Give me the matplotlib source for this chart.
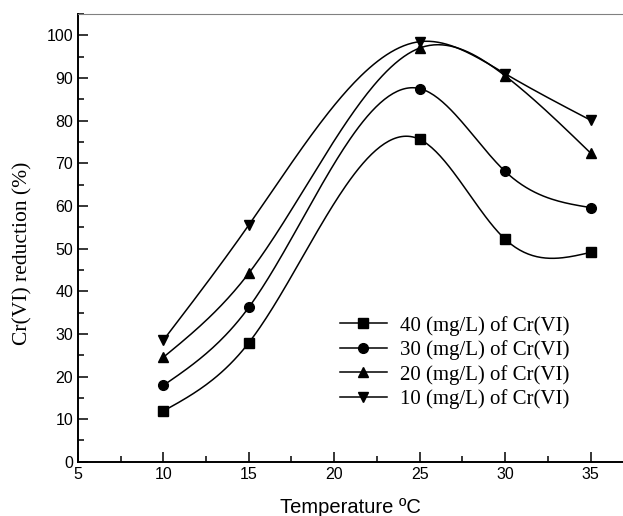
import matplotlib
matplotlib.use("Agg")
import matplotlib.pyplot as plt
import numpy as np
from matplotlib.ticker import MultipleLocator

temperature = [10, 15, 25, 30, 35]
red_40 = [11.9, 27.9, 75.6, 52.2, 49.1]
red_30 = [17.9, 36.2, 87.5, 68.1, 59.6]
red_20 = [24.5, 44.2, 97.0, 90.5, 72.4]
red_10 = [28.5, 55.5, 98.5, 91.0, 80.1]
labels = ["40 (mg/L) of Cr(VI)", "30 (mg/L) of Cr(VI)",
          "20 (mg/L) of Cr(VI)", "10 (mg/L) of Cr(VI)"]


def spline(x, y, n=200):
    # natural cubic spline, just for drawing the smooth line
    x = np.asarray(x, float)
    y = np.asarray(y, float)
    k = len(x)
    h = np.diff(x)
    A = np.zeros((k, k))
    b = np.zeros(k)
    A[0, 0] = A[-1, -1] = 1
    for i in range(1, k - 1):
        A[i, i - 1] = h[i - 1]
        A[i, i] = 2 * (h[i - 1] + h[i])
        A[i, i + 1] = h[i]
        b[i] = 6 * ((y[i + 1] - y[i]) / h[i] - (y[i] - y[i - 1]) / h[i - 1])
    M = np.linalg.solve(A, b)
    xs = np.linspace(x[0], x[-1], n)
    j = np.clip(np.searchsorted(x, xs) - 1, 0, k - 2)
    t1 = x[j + 1] - xs
    t0 = xs - x[j]
    ys = (M[j] * t1 ** 3 + M[j + 1] * t0 ** 3) / (6 * h[j]) \
        + (y[j] / h[j] - M[j] * h[j] / 6) * t1 \
        + (y[j + 1] / h[j] - M[j + 1] * h[j] / 6) * t0
    return xs, ys


fig = plt.figure(figsize=(6.23, 5.16), dpi=100)
ax = fig.add_axes([0.125, 0.105, 0.875, 0.868])

series = [red_40, red_30, red_20, red_10]
markers = ["s", "o", "^", "v"]
for vals, m, lab in zip(series, markers, labels):
    xs, ys = spline(temperature, vals)
    ax.plot(xs, ys, color="black", lw=1.1)
    ax.plot(temperature, vals, ls="none", marker=m, ms=7, color="black")
    ax.plot([], [], color="black", lw=1.1, marker=m, ms=7, label=lab)

ax.set_xlim(5, 36.9)
ax.set_ylim(0, 105)
ax.xaxis.set_major_locator(MultipleLocator(5))
ax.xaxis.set_minor_locator(MultipleLocator(2.5))
ax.yaxis.set_major_locator(MultipleLocator(10))
ax.yaxis.set_minor_locator(MultipleLocator(5))
ax.tick_params(which="both", direction="in", width=1.1, labelsize=11.5)
ax.tick_params(which="major", length=7)
ax.tick_params(which="minor", length=4)
for lbl in ax.get_xticklabels() + ax.get_yticklabels():
    lbl.set_fontfamily("Liberation Sans")

ax.spines["right"].set_visible(False)
ax.spines["top"].set_color("#808080")
ax.spines["left"].set_linewidth(1.4)
ax.spines["bottom"].set_linewidth(1.4)

ax.set_xlabel("Temperature ºC", fontfamily="Liberation Sans", fontsize=14.5, labelpad=12)
ax.set_ylabel("Cr(VI) reduction (%)", fontfamily="Liberation Serif", fontsize=15.5)
ax.yaxis.set_label_coords(-0.083, 0.466)

ax.legend(loc="upper left", bbox_to_anchor=(0.446, 0.368), frameon=False,
          prop={"family": "Liberation Serif", "size": 15}, handlelength=2.25,
          handletextpad=0.65, labelspacing=0.22, borderpad=0.4)

fig.savefig("out.png", dpi=100)
